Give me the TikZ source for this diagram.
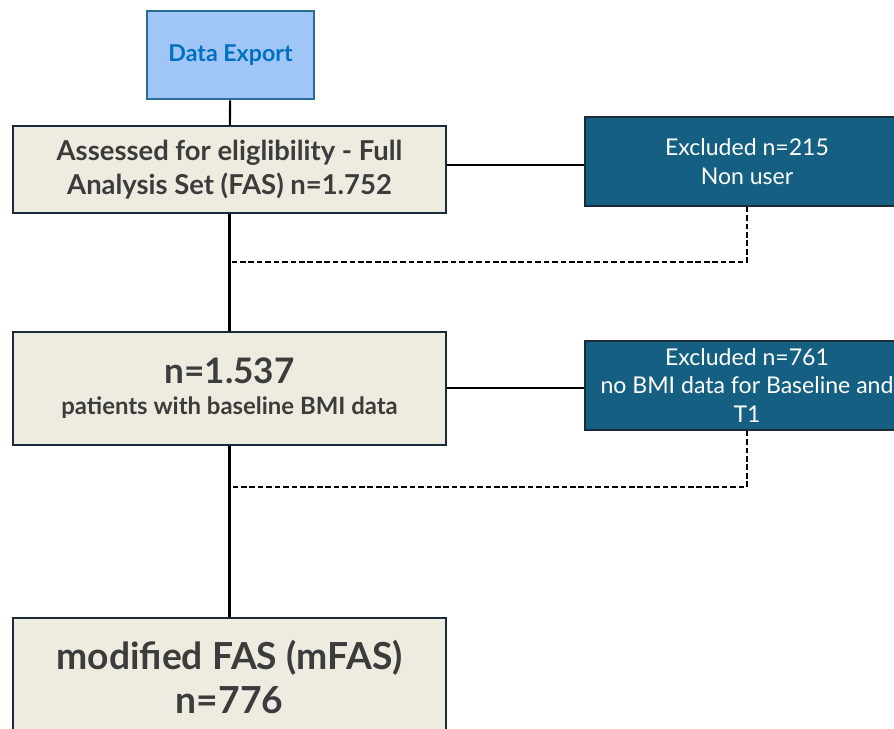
\documentclass[tikz,border=0pt]{standalone}
\usepackage{fontspec}
\setmainfont{Lato}
\usetikzlibrary{calc}
\definecolor{boxbeige}{HTML}{EEEBE0}
\definecolor{boxline}{HTML}{1C2B39}
\definecolor{textgray}{HTML}{3C3C3C}
\definecolor{exportfill}{HTML}{A0C6F8}
\definecolor{exportline}{HTML}{2A6E96}
\definecolor{exporttext}{HTML}{0070C0}
\definecolor{exclfill}{HTML}{156082}
\tikzstyle{flowbox}=[draw=boxline,line width=1.6pt,fill=boxbeige,text=textgray,align=center,font=\bfseries,inner sep=0pt]
\tikzstyle{exportbox}=[draw=exportline,line width=1.8pt,fill=exportfill,text=exporttext,font=\bfseries\fontsize{16.5}{20}\selectfont,minimum width=4.175cm,minimum height=2.2cm,inner sep=0pt]
\tikzstyle{exclbox}=[draw=boxline,line width=1pt,fill=exclfill,text=white,align=center,font=\fontsize{16.4}{20.5}\selectfont,minimum width=8.1cm,minimum height=2.225cm,inner sep=0pt]
\tikzstyle{flowline}=[line width=1.5pt,black]
\tikzstyle{excludedline}=[line width=1.5pt,black,dash pattern=on 4pt off 2pt]

\begin{document}
\begin{tikzpicture}
  \useasboundingbox (0,0) rectangle (22.35,-18.225);
  \clip (0,0) rectangle (22.35,-18.225);
  % boxes
  \node[exportbox] (export) at (5.7625,-1.375) {Data Export};
  \node[flowbox,minimum width=10.825cm,minimum height=2.175cm,font=\bfseries\fontsize{19.5}{24}\selectfont] (fas) at (5.7375,-4.2375)
    {Assessed for eliglibility - Full\\Analysis Set (FAS) n=1.752};
  \node[exclbox] (excl1) at (18.675,-4.0375) {Excluded n=215\\Non user};
  \node[flowbox,minimum width=10.825cm,minimum height=2.825cm] (bmi) at (5.7375,-9.7125)
    {{\fontsize{25}{28}\selectfont n=1.537}\\[8pt]{\fontsize{17}{20}\selectfont patients with baseline BMI data}};
  \node[exclbox] (excl2) at (18.675,-9.6375) {Excluded n=761\\no BMI data for Baseline and\\T1};
  \node[flowbox,minimum width=10.825cm,minimum height=2.95cm,font=\bfseries\fontsize{26.5}{31}\selectfont] (mfas) at (5.7375,-16.925)
    {modified FAS (mFAS)\\n=776};
  % main flow
  \draw[flowline] (export) -- (fas);
  \draw[flowline] (fas) -- (bmi);
  \draw[flowline] (bmi) -- (mfas);
  \draw[flowline] (fas.east |- 0,-4.125) -- (excl1.west |- 0,-4.125);
  \draw[flowline] (bmi.east |- 0,-9.7) -- (excl2.west |- 0,-9.7);
  % dashed returns
  \coordinate (join1) at (5.75,-6.55);
  \coordinate (join2) at (5.75,-12.175);
  \draw[excludedline] (excl1.south) |- (join1);
  \draw[excludedline] (excl2.south) |- (join2);
\end{tikzpicture}
\end{document}
